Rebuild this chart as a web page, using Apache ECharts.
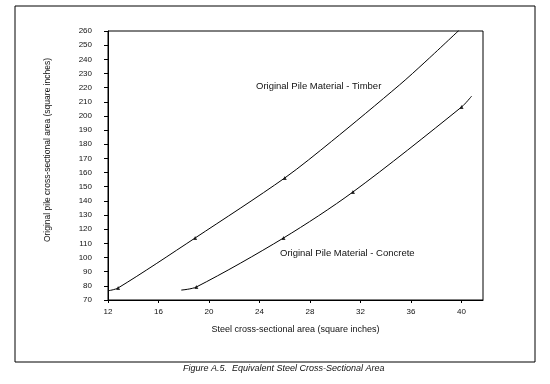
<!DOCTYPE html>
<html>
<head>
<meta charset="utf-8">
<script src="https://cdn.jsdelivr.net/npm/echarts@6/dist/echarts.min.js"></script>
<style>
html,body{margin:0;padding:0;background:#fff;}
#c{width:550px;height:384px;}
</style>
</head>
<body>
<div id="c"></div>
<script>
// Data
const timberX = [12.0, 12.8, 18.9, 26.0, 29.7, 35.1, 37.1, 39.8];
const timberY = [76.5, 78.5, 113.8, 156.2, 182, 222, 238, 260.5];
const timberMarkX = [12.8, 18.9, 26.0];
const timberMarkY = [78.5, 113.8, 156.2];
const concreteX = [17.8, 19.0, 25.9, 31.4, 40.0, 40.8];
const concreteY = [77, 79.2, 113.8, 146.3, 206.3, 214];
const concreteMarkX = [19.0, 25.9, 31.4, 40.0];
const concreteMarkY = [79.2, 113.8, 146.3, 206.3];
const xTicks = [12, 16, 20, 24, 28, 32, 36, 40];
const yTicks = [70, 80, 90, 100, 110, 120, 130, 140, 150, 160, 170, 180, 190, 200, 210, 220, 230, 240, 250, 260];
const labelTimber = 'Original Pile Material - Timber';
const labelConcrete = 'Original Pile Material - Concrete';
const xName = 'Steel cross-sectional area (square inches)';
const yName = 'Original pile cross-sectional area (square inches)';
const caption = 'Figure A.5.  Equivalent Steel Cross-Sectional Area';

const zip = (a, b) => a.map((v, i) => [v, b[i]]);
const FONT = 'Liberation Sans';

const chart = echarts.init(document.getElementById('c'), null, {renderer: 'canvas'});
chart.setOption({
  animation: false,
  backgroundColor: '#fff',
  grid: {left: 108, right: 67, top: 31, bottom: 84, show: true, borderColor: '#000', borderWidth: 1},
  xAxis: {
    type: 'value', min: 12, max: 41.7, interval: 4,
    name: xName, nameLocation: 'middle', nameGap: 25,
    nameTextStyle: {fontFamily: FONT, fontSize: 9, color: '#111'},
    axisLine: {show: true, lineStyle: {color: '#000', width: 1}},
    axisTick: {show: true, length: 3, lineStyle: {color: '#000'}},
    axisLabel: {fontFamily: FONT, fontSize: 8, color: '#111', margin: 8, showMaxLabel: false,
      formatter: v => xTicks.includes(v) ? String(v) : ''},
    splitLine: {show: false}
  },
  yAxis: {
    type: 'value', min: 70, max: 260, interval: 10,
    axisLine: {show: true, lineStyle: {color: '#000', width: 1}},
    axisTick: {show: true, length: 4, lineStyle: {color: '#000'}},
    axisLabel: {fontFamily: FONT, fontSize: 8, color: '#111', margin: 16,
      formatter: v => yTicks.includes(v) ? String(v) : ''},
    splitLine: {show: false}
  },
  series: [
    {type: 'line', data: zip(timberX, timberY), smooth: 0.3, showSymbol: false,
      lineStyle: {color: '#000', width: 1}},
    {type: 'scatter', data: zip(timberMarkX, timberMarkY), symbol: 'triangle', symbolSize: 4,
      itemStyle: {color: '#000'}},
    {type: 'line', data: zip(concreteX, concreteY), smooth: 0.3, showSymbol: false,
      lineStyle: {color: '#000', width: 1}},
    {type: 'scatter', data: zip(concreteMarkX, concreteMarkY), symbol: 'triangle', symbolSize: 4,
      itemStyle: {color: '#000'}}
  ],
  graphic: [
    {type: 'rect', shape: {x: 15, y: 6, width: 520, height: 356}, style: {fill: 'none', stroke: '#000', lineWidth: 1}},
    {type: 'text', x: 48, y: 150, rotation: Math.PI / 2,
      style: {text: yName, fontFamily: FONT, fontSize: 8.5, fill: '#111', align: 'center', verticalAlign: 'middle'}},
    {type: 'text', left: 256, top: 81, style: {text: labelTimber, fontFamily: FONT, fontSize: 9.5, fill: '#111'}},
    {type: 'text', left: 280, top: 248, style: {text: labelConcrete, fontFamily: FONT, fontSize: 9.5, fill: '#111'}},
    {type: 'text', left: 183, top: 364, style: {text: caption, fontFamily: FONT, fontSize: 9, fontStyle: 'italic', fill: '#111'}}
  ]
});
</script>
</body>
</html>
